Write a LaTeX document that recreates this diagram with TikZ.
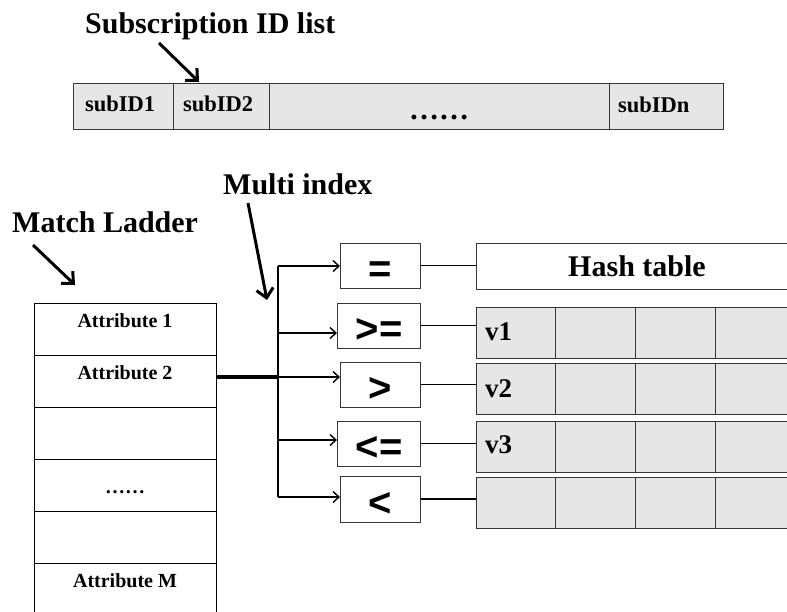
\documentclass[tikz,border=0pt]{standalone}
\usepackage{fontspec}
\setmainfont{Liberation Serif}
\newfontfamily\opfont{Liberation Sans}
\usetikzlibrary{arrows.meta}

\definecolor{cellgray}{RGB}{230,230,230}
\definecolor{edgegray}{RGB}{55,55,55}

% bold serif text at a given size (in pt)
\newcommand\bsz[1]{\fontsize{#1}{#1}\selectfont\bfseries}

\begin{document}
\begin{tikzpicture}[x=1pt,y=-1pt,
  title/.style={font=\bsz{30}, inner sep=0, anchor=base west},
  subcell/.style={draw=edgegray, fill=cellgray, line width=1pt, inner sep=0,
    minimum height=46pt, anchor=north west},
  subtext/.style={font=\bsz{22.5}, inner sep=0, anchor=base west},
  laddercell/.style={draw=black, fill=white, line width=1.2pt, inner sep=0,
    minimum width=182pt, minimum height=52pt, anchor=north west},
  laddertext/.style={font=\bsz{20}, inner sep=0, anchor=base},
  opbox/.style={draw=edgegray, fill=white, line width=1pt, inner sep=0,
    minimum height=45pt, anchor=east, text height=34pt, text depth=0pt,
    font=\opfont\fontsize{40}{40}\selectfont\bfseries},
  tabcell/.style={draw=edgegray, fill=cellgray, line width=1pt, inner sep=0,
    minimum width=80pt, minimum height=51pt, anchor=north west},
  valtext/.style={font=\bsz{27}, inner sep=0, anchor=base west},
  pointer/.style={line width=3pt, -{Straight Barb[length=9pt,width=17pt,line width=3pt]}},
  branch/.style={line width=1.4pt, -{Straight Barb[length=6pt,width=11pt,line width=1.4pt]}},
  link/.style={line width=1.4pt},
]
\useasboundingbox (0,0) rectangle (787,611);
\clip (0,0) rectangle (787,611);
\fill[white] (0,0) rectangle (787,611);

% ---- subscription ID list ----
\node[title] (subtitle) at (85,33) {Subscription ID list};
\node[subcell, minimum width=100pt] (s1) at (73,83) {};
\node[subcell, minimum width=96pt]  (s2) at (173,83) {};
\node[subcell, minimum width=340pt] (s3) at (269,83) {};
\node[subcell, minimum width=114pt] (s4) at (609,83) {};
\node[subtext] (t1) at (85,111) {subID1};
\node[subtext] (t2) at (183,111) {subID2};
\node[subtext] (tn) at (618,112) {subIDn};
\node[font=\bsz{30}, inner sep=0, anchor=base] (tdots) at (439,119) {……};
\coordinate (subtail) at (159,43);
\coordinate (subtip) at (199,82);
\draw[pointer] (subtail) -- (subtip);

% ---- match ladder ----
\node[title] (laddertitle) at (12,232) {Match Ladder};
\coordinate (ladtail) at (33,245);
\coordinate (ladtip) at (75,285);
\draw[pointer] (ladtail) -- (ladtip);
\foreach \k/\top in {1/303,2/355,3/407,4/459,5/511,6/563}
  \node[laddercell] (lad\k) at (34,\top) {};
\node[laddertext] (a1) at (125,327) {Attribute 1};
\node[laddertext] (a2) at (125,379) {Attribute 2};
\node[laddertext] (adots) at (125,493) {……};
\node[laddertext] (aM) at (125,587) {Attribute M};

% ---- multi index ----
\node[title] (multititle) at (223,194) {Multi index};
\coordinate (multail) at (248,203);
\coordinate (multip) at (267,300);
\draw[pointer] (multail) -- (multip);

\node[opbox, minimum width=80pt] (eq) at (421,265.5) {=};
\node[opbox, minimum width=83pt] (ge) at (421,325.5) {>=};
\node[opbox, minimum width=80pt] (gt) at (421,384.5) {>};
\node[opbox, minimum width=83pt] (le) at (421,443.5) {<=};
\node[opbox, minimum width=80pt, minimum height=46pt] (lt) at (421,499) {<};

% ---- hash table and value tables ----
\node[draw=edgegray, fill=white, line width=1pt, inner sep=0, anchor=north west,
  minimum width=321pt, minimum height=46pt, font=\bsz{30}] (hash) at (476,243) {Hash table};
\foreach \r/\top in {1/307,2/363,3/421,4/477}
  \foreach \c/\lx in {1/476,2/555,3/635,4/715}
    \node[tabcell] (c\r\c) at (\lx,\top) {};
\node[valtext] (v1) at (485,340) {v1};
\node[valtext] (v2) at (485,397) {v2};
\node[valtext] (v3) at (485,453) {v3};

\draw[link] (eq.east) -- (eq.east -| hash.west);
\draw[link] (ge.east) -- (ge.east -| c11.west);
\draw[link] (gt.east) -- (gt.east -| c21.west);
\draw[link] (le.east) -- (le.east -| c31.west);
\draw[link] (lt.east) -- (lt.east -| c41.west);

% ---- fan-out from the ladder to the operator boxes ----
\coordinate (j1) at (278,266);
\coordinate (j2) at (278,333);
\coordinate (j3) at (278,377);
\coordinate (j4) at (278,440);
\coordinate (j5) at (278,497);
\draw[line width=2.6pt] (j1) -- (j4);
\draw[line width=1.8pt] (j4) -- (j5);
\draw[line width=3.6pt] (lad2.east |- j3) -- (j3);
\draw[branch] (j1) -- (j1 -| eq.west);
\draw[branch] (j2) -- (j2 -| ge.west);
\draw[branch] (j3) -- (j3 -| gt.west);
\draw[branch] (j4) -- (j4 -| le.west);
\draw[branch] (j5) -- (j5 -| lt.west);
\end{tikzpicture}
\end{document}
